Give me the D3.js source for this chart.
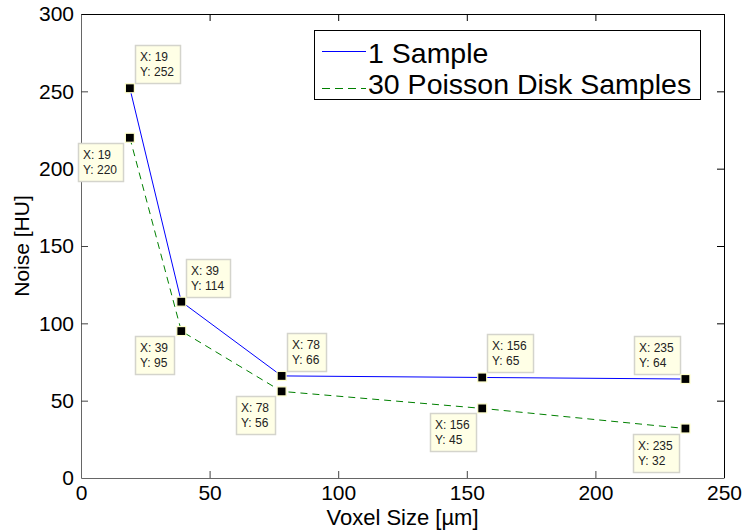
<!DOCTYPE html>
<html><head><meta charset="utf-8">
<script src="https://cdn.jsdelivr.net/npm/d3@7/dist/d3.min.js"></script>
<style>body{margin:0;background:#fff}svg{display:block}</style>
</head><body>
<svg id="c" width="744" height="530"></svg>
<script>
const voxelSize = [19, 39, 78, 156, 235];
const oneSample = [252, 114, 66, 65, 64];
const poissonSamples = [220, 95, 56, 45, 32];
const seriesNames = ["1 Sample", "30 Poisson Disk Samples"];
const xTicks = [0, 50, 100, 150, 200, 250];
const yTicks = [0, 50, 100, 150, 200, 250, 300];

const svg = d3.select("#c");
const L = 81, R = 724, T = 14, B = 478;
const x = d3.scaleLinear().domain([0, 250]).range([L, R]);
const y = d3.scaleLinear().domain([0, 300]).range([B, T]);
const font = "'Liberation Sans', Arial, sans-serif";

// axes box
svg.append("line").attr("x1", L).attr("x2", R).attr("y1", T + 0.5).attr("y2", T + 0.5).attr("stroke", "#000");
svg.append("line").attr("x1", R + 0.5).attr("x2", R + 0.5).attr("y1", T).attr("y2", B).attr("stroke", "#000");

const tl = 7;
const gx = svg.append("g").attr("transform", `translate(0,${B})`)
  .call(d3.axisBottom(x).tickValues(xTicks).tickSizeInner(-tl).tickSizeOuter(0).tickPadding(7));
const gy = svg.append("g").attr("transform", `translate(${L},0)`)
  .call(d3.axisLeft(y).tickValues(yTicks).tickSizeInner(-tl).tickSizeOuter(0).tickPadding(7));
const gxt = svg.append("g").attr("transform", `translate(0,${T})`)
  .call(d3.axisTop(x).tickValues(xTicks).tickSizeInner(-tl).tickSizeOuter(0).tickFormat(""));
const gyr = svg.append("g").attr("transform", `translate(${R},0)`)
  .call(d3.axisRight(y).tickValues(yTicks).tickSizeInner(-tl).tickSizeOuter(0).tickFormat(""));
[gx, gy].forEach(g => {
  g.select(".domain").attr("stroke", "#666");
  g.selectAll(".tick line").attr("stroke", "#444");
  g.selectAll("text").attr("font-family", font).attr("font-size", 21).attr("fill", "#000");
});
[gxt, gyr].forEach(g => { g.select(".domain").remove(); g.selectAll(".tick line").attr("stroke", "#000"); });
gx.selectAll(".tick").filter(d => d === 0 || d === 250).select("line").remove();
gy.selectAll(".tick").filter(d => d === 0 || d === 300).select("line").remove();
gxt.selectAll(".tick").filter(d => d === 0 || d === 250).remove();
gyr.selectAll(".tick").filter(d => d === 0 || d === 300).remove();

// axis labels
svg.append("text").attr("x", (L + R) / 2).attr("y", 525).attr("text-anchor", "middle")
  .attr("font-family", font).attr("font-size", 22).text("Voxel Size [µm]");
svg.append("text").attr("transform", `translate(29,${(T + B) / 2}) rotate(-90)`).attr("text-anchor", "middle")
  .attr("font-family", font).attr("font-size", 21).text("Noise [HU]");

// lines
const series = [
  { name: seriesNames[0], vals: oneSample, color: "#0000ff", dash: null },
  { name: seriesNames[1], vals: poissonSamples, color: "#008000", dash: "7,5" }
];
const line = d3.line().x(d => x(d[0])).y(d => y(d[1]));
series.forEach(s => {
  svg.append("path").datum(voxelSize.map((v, i) => [v, s.vals[i]]))
    .attr("d", line).attr("fill", "none").attr("stroke", s.color).attr("stroke-width", 1)
    .attr("stroke-dasharray", s.dash);
});

// data tips
series.forEach((s, si) => {
  voxelSize.forEach((v, i) => {
    const mx = x(v), my = y(s.vals[i]);
    const g = svg.append("g");
    const t1 = g.append("text").attr("font-family", font).attr("font-size", 12).attr("fill", "#222").text("X: " + v);
    const t2 = g.append("text").attr("font-family", font).attr("font-size", 12).attr("fill", "#222").text("Y: " + s.vals[i]);
    const w = Math.max(t1.node().getComputedTextLength(), t2.node().getComputedTextLength()) + 11;
    const h = 38;
    let bx, by;
    if (si === 0) {
      by = my - 5 - h;
      bx = (mx + 5 + w > R) ? mx - 6 - w : mx + 5;
    } else {
      by = my + 5;
      bx = mx - 7 - w;
    }
    g.insert("rect", "text").attr("x", Math.round(bx) + 0.5).attr("y", Math.round(by) + 0.5)
      .attr("width", Math.round(w)).attr("height", h)
      .attr("fill", "#ffffe6").attr("stroke", "#d4d4cc").attr("stroke-width", 1.5);
    t1.attr("x", Math.round(bx) + 5).attr("y", Math.round(by) + 16);
    t2.attr("x", Math.round(bx) + 5).attr("y", Math.round(by) + 31);
    svg.append("rect").attr("x", mx - 4.5).attr("y", my - 4.5).attr("width", 9).attr("height", 9)
      .attr("fill", "#000").attr("stroke", "#ffffcc").attr("stroke-width", 1.2);
  });
});

// legend
const lg = svg.append("g");
lg.append("rect").attr("x", 314.5).attr("y", 30.5).attr("width", 386).attr("height", 69)
  .attr("fill", "#fff").attr("stroke", "#000");
series.forEach((s, i) => {
  const ly = 51 + i * 37, ty = 63 + i * 31;
  lg.append("line").attr("x1", 322).attr("x2", 366).attr("y1", ly + 0.5).attr("y2", ly + 0.5)
    .attr("stroke", s.color).attr("stroke-dasharray", s.dash ? "8,5" : null);
  lg.append("text").attr("x", 368).attr("y", ty).attr("font-family", font).attr("font-size", 28.5)
    .attr("fill", "#000").text(s.name);
});
</script>
</body></html>
